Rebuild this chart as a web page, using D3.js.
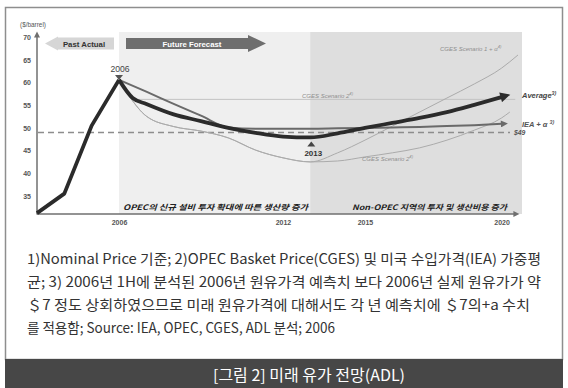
<!DOCTYPE html>
<html>
<head>
<meta charset="utf-8">
<script src="https://cdn.jsdelivr.net/npm/d3@7"></script>
<style>
  body { margin: 0; background: #fff; }
  svg { display: block; }
</style>
</head>
<body>
<svg id="chart" width="568" height="388"></svg>
<script>
// ---- data ($/barrel, nominal) ----
const yTicks = [35, 40, 45, 50, 55, 60, 65, 70];
const xTicks = [2006, 2012, 2015, 2020];

const pastYears = [2003, 2004, 2005, 2006];
const pastPrice = [31.2, 35.5, 50.5, 60.6];

const avgYears = [2006, 2006.5, 2007, 2008, 2009, 2010, 2011, 2012, 2013, 2014, 2015, 2016, 2017, 2018, 2019, 2020];
const avgPrice = [60.6, 56.6, 55.3, 53.0, 51.5, 50.0, 48.9, 48.1, 47.9, 48.8, 50.0, 51.1, 52.2, 53.5, 55.1, 56.8];

const ieaYears = [2006, 2007, 2008, 2009, 2010, 2011, 2012, 2013, 2014, 2015, 2016, 2017, 2018, 2019, 2020];
const ieaPrice = [60.6, 58.0, 55.3, 52.7, 50.1, 49.8, 49.8, 49.8, 49.9, 50.0, 50.1, 50.2, 50.4, 50.6, 50.9];

const cges2LowYears = [2006, 2006.4, 2007, 2008, 2009, 2010, 2011, 2012, 2013, 2014, 2015, 2016, 2017, 2018, 2019, 2020, 2020.3];
const cges2LowPrice = [60.6, 56.8, 52.6, 50.3, 49.3, 47.8, 45.1, 43.4, 42.5, 42.7, 43.6, 44.5, 45.6, 47.3, 49.5, 52.2, 53.5];

const cges1Years = [2006, 2006.4, 2007, 2008, 2009, 2010, 2011, 2012, 2013, 2014, 2015, 2016, 2017, 2018, 2019, 2020, 2020.6];
const cges1Price = [60.6, 56.8, 52.6, 50.3, 49.3, 47.8, 45.1, 43.4, 42.5, 44.5, 47.3, 50.4, 53.5, 56.6, 59.7, 63.2, 66.1];

const cges2HighYears = [2006.5, 2020.5];
const cges2HighPrice = [56.3, 56.3];

const floorPrice = 49;          // "$49" reference level
const peakYear = 2006;
const troughYear = 2013;

const footnotes = [
  "1)Nominal Price 기준; 2)OPEC Basket Price(CGES) 및 미국 수입가격(IEA) 가중평",
  "균; 3) 2006년 1H에 분석된 2006년 원유가격 예측치 보다 2006년 실제 원유가가 약",
  "＄7 정도 상회하였으므로 미래 원유가격에 대해서도 각 년 예측치에 ＄7의+a 수치",
  "를 적용함; Source: IEA, OPEC, CGES, ADL 분석; 2006"
];
const footWidths = [514, 514, 503, 308];
const caption = "[그림 2] 미래 유가 전망(ADL)";

// ---- setup ----
const svg = d3.select("#chart");
const latin = "'Liberation Sans', Arial, sans-serif";
const kr = "'Noto Sans CJK KR', 'Noto Sans', sans-serif";

const x = d3.scaleLinear().domain([2003, 2020]).range([37, 501.6]);
const y = d3.scaleLinear().domain([31, 70]).range([214, 37.3]);

const zip = (a, b) => a.map((d, i) => [d, b[i]]);

// outer frame
svg.append("rect").attr("x", 5.5).attr("y", 7.5).attr("width", 557).attr("height", 352)
  .attr("fill", "#fff").attr("stroke", "#8e8e8e").attr("stroke-width", 1.5);

// forecast background bands
const bandTop = 32, bandRight = 522;
svg.append("rect").attr("x", x(peakYear)).attr("y", bandTop)
  .attr("width", bandRight - x(peakYear)).attr("height", y.range()[0] - bandTop)
  .attr("fill", "#efefef");
svg.append("rect").attr("x", x(troughYear)).attr("y", bandTop)
  .attr("width", bandRight - x(troughYear)).attr("height", y.range()[0] - bandTop)
  .attr("fill", "#dedede");

// arrow markers
const defs = svg.append("defs");
function marker(id, color, w, h) {
  defs.append("marker").attr("id", id)
    .attr("viewBox", "0 0 10 10").attr("refX", 1).attr("refY", 5)
    .attr("markerUnits", "userSpaceOnUse")
    .attr("markerWidth", w).attr("markerHeight", h)
    .attr("orient", "auto")
    .append("path").attr("d", "M0,0 L10,5 L0,10 z").attr("fill", color);
}
marker("arrAvg", "#2b2b2b", 11, 10);
marker("arrIea", "#6a6a6a", 9, 7);
marker("arrAxis", "#6f6f6f", 7, 6);

// header arrows
svg.append("path")
  .attr("d", "M114,37.5 L58,37.5 L58,36.5 L45,43.5 L58,50.5 L58,49.5 L114,49.5 Z")
  .attr("fill", "#d6d6d6");
svg.append("text").attr("x", 84).attr("y", 46.5).attr("text-anchor", "middle")
  .attr("font-family", latin).attr("font-weight", "bold").attr("font-size", 7.8)
  .attr("fill", "#333").text("Past Actual");
svg.append("path")
  .attr("d", "M126,38 L248,38 L248,35 L266,43.5 L248,52 L248,49 L126,49 Z")
  .attr("fill", "#6e6e6e");
svg.append("text").attr("x", 192).attr("y", 46.5).attr("text-anchor", "middle")
  .attr("font-family", latin).attr("font-weight", "bold").attr("font-size", 7.8)
  .attr("fill", "#fff").text("Future Forecast");

// unit label
svg.append("text").attr("x", 20).attr("y", 26.5)
  .attr("font-family", latin).attr("font-size", 6.4).attr("fill", "#555").text("($/barrel)");

// axes
const yAxis = svg.append("g").attr("transform", `translate(${x.range()[0]},0)`)
  .call(d3.axisLeft(y).tickValues(yTicks).tickSize(0).tickPadding(6));
yAxis.select(".domain").remove();
yAxis.selectAll("text").attr("font-family", latin).attr("font-weight", "bold")
  .attr("font-size", 7).attr("fill", "#555");

const xAxis = svg.append("g").attr("transform", `translate(0,${y.range()[0]})`)
  .call(d3.axisBottom(x).tickValues(xTicks).tickSize(0).tickPadding(6).tickFormat(d3.format("d")));
xAxis.select(".domain").remove();
xAxis.selectAll("text").attr("font-family", latin).attr("font-weight", "bold")
  .attr("font-size", 7).attr("fill", "#555");

svg.append("line").attr("x1", x.range()[0]).attr("y1", y.range()[0] + 0.5)
  .attr("x2", x.range()[0]).attr("y2", 37)
  .attr("stroke", "#6f6f6f").attr("stroke-width", 1.5).attr("marker-end", "url(#arrAxis)");
svg.append("line").attr("x1", x.range()[0]).attr("y1", y.range()[0])
  .attr("x2", 514).attr("y2", y.range()[0])
  .attr("stroke", "#6f6f6f").attr("stroke-width", 1.5).attr("marker-end", "url(#arrAxis)");

// reference level
svg.append("line").attr("x1", x.range()[0] + 1).attr("x2", 510)
  .attr("y1", y(floorPrice)).attr("y2", y(floorPrice))
  .attr("stroke", "#8d8d8d").attr("stroke-width", 1.4).attr("stroke-dasharray", "6,4");
svg.append("text").attr("x", 514).attr("y", y(floorPrice) + 2.5)
  .attr("font-family", latin).attr("font-weight", "bold").attr("font-style", "italic")
  .attr("font-size", 6.8).attr("fill", "#555").text("$" + floorPrice);

// series
const lin = d3.line().x(d => x(d[0])).y(d => y(d[1]));
const smooth = d3.line().x(d => x(d[0])).y(d => y(d[1])).curve(d3.curveMonotoneX);

svg.append("path").datum(zip(cges2HighYears, cges2HighPrice)).attr("d", lin)
  .attr("fill", "none").attr("stroke", "#c2c2c2").attr("stroke-width", 1);
svg.append("path").datum(zip(cges2LowYears, cges2LowPrice)).attr("d", smooth)
  .attr("fill", "none").attr("stroke", "#ababab").attr("stroke-width", 1);
svg.append("path").datum(zip(cges1Years, cges1Price)).attr("d", smooth)
  .attr("fill", "none").attr("stroke", "#ababab").attr("stroke-width", 1);
svg.append("path").datum(zip(ieaYears, ieaPrice)).attr("d", smooth)
  .attr("fill", "none").attr("stroke", "#6a6a6a").attr("stroke-width", 2)
  .attr("marker-end", "url(#arrIea)");
svg.append("path").datum(zip(avgYears, avgPrice)).attr("d", smooth)
  .attr("fill", "none").attr("stroke", "#2b2b2b").attr("stroke-width", 3.8)
  .attr("stroke-linejoin", "round").attr("marker-end", "url(#arrAvg)");
svg.append("path").datum(zip(pastYears, pastPrice)).attr("d", lin)
  .attr("fill", "none").attr("stroke", "#2b2b2b").attr("stroke-width", 3.8)
  .attr("stroke-linejoin", "round");

// series labels
function sup(sel, main, s) {
  sel.append("tspan").text(main);
  sel.append("tspan").attr("dy", -3).attr("font-size", "0.7em").text(s);
}
const lblAvg = svg.append("text").attr("x", 522).attr("y", 98)
  .attr("font-family", latin).attr("font-weight", "bold").attr("font-style", "italic")
  .attr("font-size", 7.5).attr("fill", "#444");
sup(lblAvg, "Average", "3)");
const lblIea = svg.append("text").attr("x", 522).attr("y", 127)
  .attr("font-family", latin).attr("font-weight", "bold").attr("font-style", "italic")
  .attr("font-size", 7.5).attr("fill", "#555");
sup(lblIea, "IEA + α ", "3)");

function thinLabel(xp, yp, main, s) {
  const t = svg.append("text").attr("x", xp).attr("y", yp)
    .attr("font-family", latin).attr("font-style", "italic")
    .attr("font-size", 6).attr("fill", "#8f8f8f");
  sup(t, main, s);
}
thinLabel(440, 51, "CGES Scenario 1 + α", "4)");
thinLabel(302, 98, "CGES Scenario 2", "4)");
thinLabel(362, 161, "CGES Scenario 2", "4)");

// peak and trough markers
const px = x(peakYear), py = y(pastPrice[pastPrice.length - 1]);
svg.append("path").attr("d", `M${px - 4},${py - 5} L${px + 4},${py - 5} L${px},${py} Z`).attr("fill", "#555");
svg.append("text").attr("x", px + 1).attr("y", py - 7.5).attr("text-anchor", "middle")
  .attr("font-family", latin).attr("font-size", 8.6).attr("fill", "#444").text(peakYear);

const tx = x(troughYear) + 1;
svg.append("path").attr("d", `M${tx - 4},146.5 L${tx + 4},146.5 L${tx},141.5 Z`).attr("fill", "#444");
svg.append("text").attr("x", tx + 2).attr("y", 155.5).attr("text-anchor", "middle")
  .attr("font-family", latin).attr("font-weight", "bold").attr("font-size", 8)
  .attr("fill", "#333").text(troughYear);

// band captions
svg.append("text").attr("x", 123).attr("y", 210)
  .attr("font-family", kr).attr("font-weight", "bold").attr("font-style", "italic")
  .attr("font-size", 7.5).attr("fill", "#222")
  .attr("textLength", 185).attr("lengthAdjust", "spacingAndGlyphs")
  .text("OPEC의 신규 설비 투자 확대에 따른 생산량 증가");
svg.append("text").attr("x", 352).attr("y", 210)
  .attr("font-family", kr).attr("font-weight", "bold").attr("font-style", "italic")
  .attr("font-size", 7.5).attr("fill", "#222")
  .attr("textLength", 155).attr("lengthAdjust", "spacingAndGlyphs")
  .text("Non-OPEC 지역의 투자 및 생산비용 증가");

// footnotes
footnotes.forEach((line, i) => {
  svg.append("text").attr("x", 27).attr("y", 264 + i * 23)
    .attr("font-family", kr).attr("font-size", 14).attr("fill", "#333")
    .attr("textLength", footWidths[i]).attr("lengthAdjust", "spacingAndGlyphs")
    .text(line);
});

// caption bar
svg.append("rect").attr("x", 5).attr("y", 359).attr("width", 558).attr("height", 29).attr("fill", "#474747");
svg.append("text").attr("x", 213).attr("y", 380.5)
  .attr("font-family", kr).attr("font-size", 15.5).attr("fill", "#fff")
  .attr("textLength", 192).attr("lengthAdjust", "spacingAndGlyphs")
  .text(caption);
</script>
</body>
</html>
